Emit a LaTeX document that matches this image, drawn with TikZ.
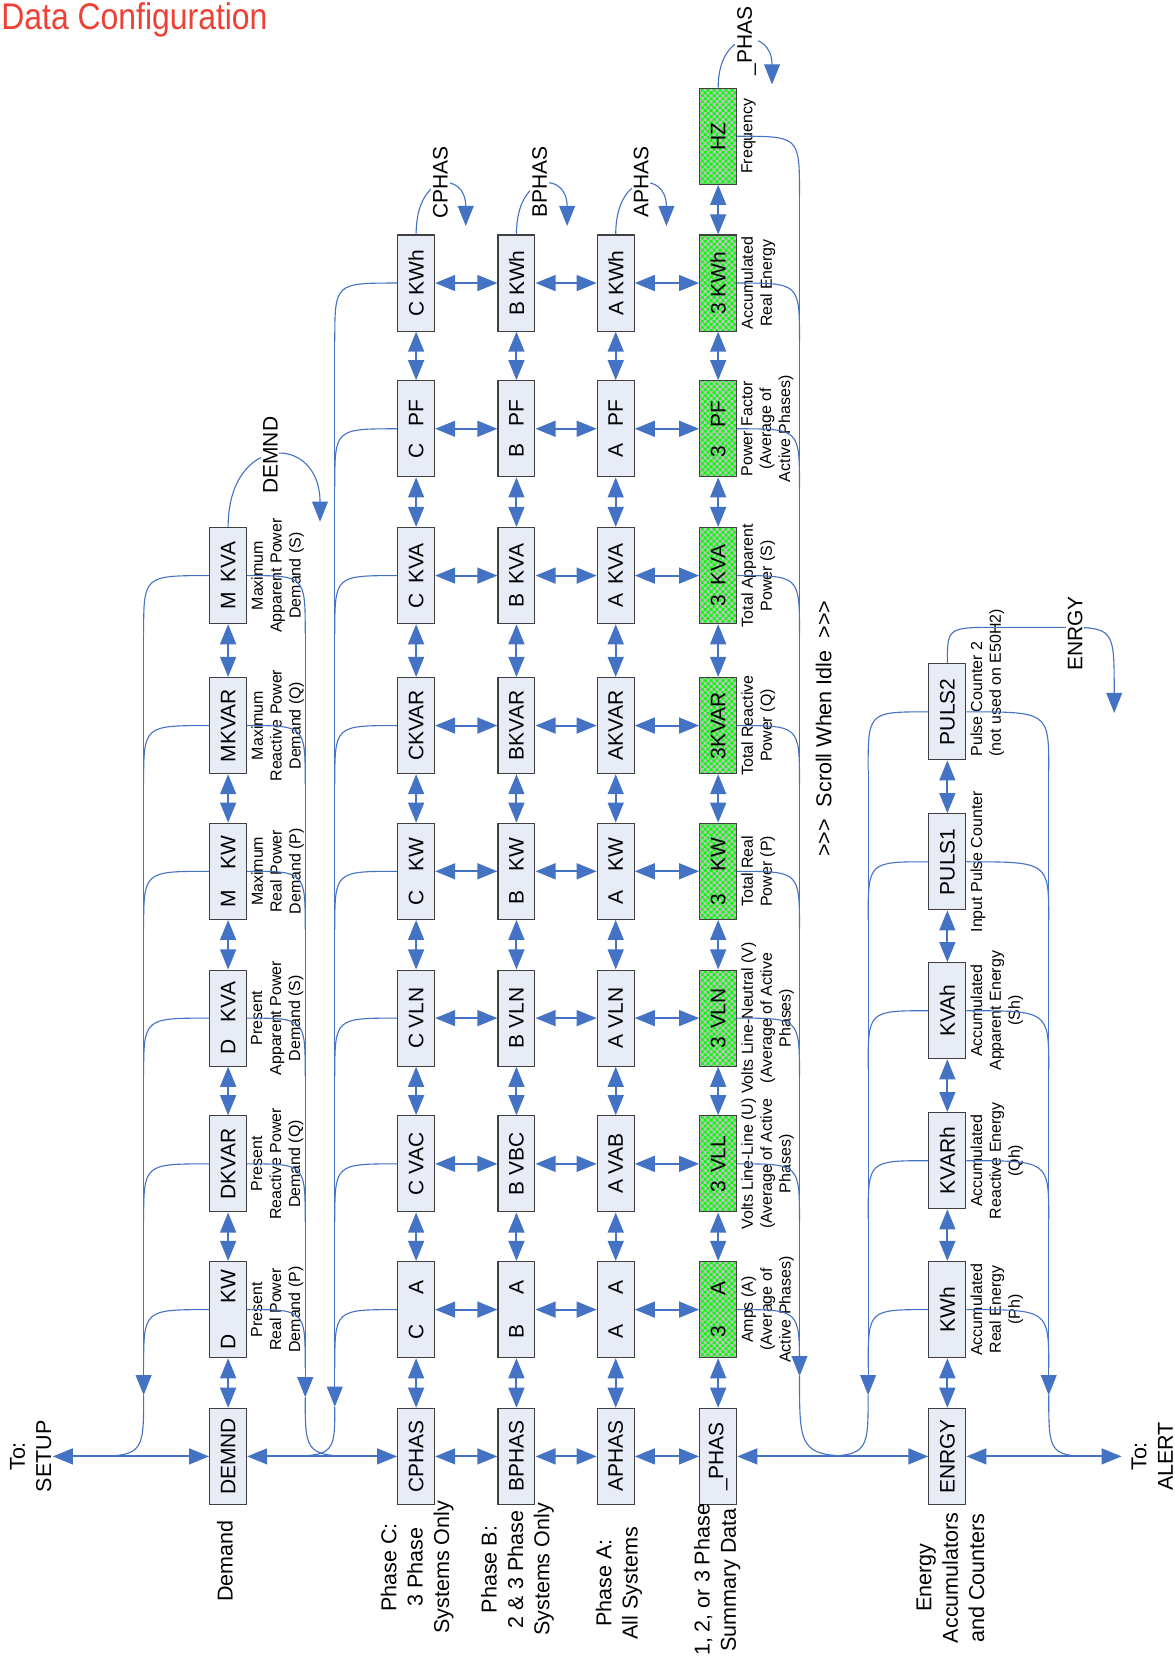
\documentclass[tikz,border=0pt]{standalone}
\usepackage{graphicx}
\usepackage{fontspec}
\setmainfont{Liberation Sans}
\usetikzlibrary{arrows.meta,patterns}

\definecolor{linkblue}{RGB}{68,114,196}
\definecolor{cellfill}{RGB}{231,236,247}
\definecolor{chkgray}{RGB}{192,192,192}
\definecolor{titlered}{RGB}{237,65,54}

\pgfdeclarepatternformonly{finechecker}{\pgfqpoint{-.05pt}{-.05pt}}{\pgfqpoint{3.25pt}{3.25pt}}{\pgfqpoint{3.2pt}{3.2pt}}{
  \pgfpathrectangle{\pgfqpoint{0pt}{0pt}}{\pgfqpoint{1.65pt}{1.65pt}}
  \pgfpathrectangle{\pgfqpoint{1.6pt}{1.6pt}}{\pgfqpoint{1.65pt}{1.65pt}}
  \pgfusepath{fill}
}

\tikzset{
  Fat/.tip={Triangle[length=0.38cm,width=0.3cm]},
  cell/.style={draw=black!75, line width=0.6pt, rotate=90, minimum width=1.82cm,
    minimum height=0.7cm, inner sep=1pt, font=\fontsize{11.3}{13}\selectfont},
  box/.style={cell, fill=cellfill},
  sumbox/.style={cell, preaction={fill=green}, pattern=finechecker, pattern color=chkgray},
  desc/.style={rotate=90, anchor=north, align=center, inner sep=2pt,
    font=\fontsize{8.6}{10.2}\selectfont},
  grouplabel/.style={rotate=90, align=center, inner sep=0pt,
    font=\fontsize{11.6}{14.2}\selectfont},
  wraplabel/.style={rotate=90, fill=white, inner sep=1pt,
    font=\fontsize{11.3}{13}\selectfont},
  link/.style={draw=linkblue, line width=1.1pt, Fat-Fat},
  bus/.style={draw=linkblue, line width=0.6pt},
  busarrow/.style={bus, -Fat},
}

\begin{document}
\begin{tikzpicture}[x=0.02cm, y=-0.02cm]
\useasboundingbox (0,0) rectangle (1112,1568);

% Title
\node[anchor=base west, inner sep=0pt, text=titlered, font=\fontsize{20}{23}\selectfont] (title) at (1,27.5) {\scalebox{0.86}[1]{Data Configuration}};

% Demand
\node[box] (D0) at (216,1379) {DEMND};
\node[box] (D1) at (216,1240) {D\hspace{17pt}KW};
\node[box] (D2) at (216,1102) {DKVAR};
\node[box] (D3) at (216,964) {D\hspace{9pt}KVA};
\node[box] (D4) at (216,825) {M\hspace{11pt}KW};
\node[box] (D5) at (216,687) {MKVAR};
\node[box] (D6) at (216,545) {M\hspace{5pt}KVA};

% Phase C
\node[box] (C0) at (394,1379) {CPHAS};
\node[box] (C1) at (394,1240) {C\hspace{16pt}A};
\node[box] (C2) at (394,1102) {C VAC};
\node[box] (C3) at (394,964) {C VLN};
\node[box] (C4) at (394,825) {C\hspace{10pt}KW};
\node[box] (C5) at (394,687) {CKVAR};
\node[box] (C6) at (394,545) {C\hspace{5pt}KVA};
\node[box] (C7) at (394,406) {C\hspace{9pt}PF};
\node[box] (C8) at (394,268) {C KWh};

% Phase B
\node[box] (B0) at (489,1379) {BPHAS};
\node[box] (B1) at (489,1240) {B\hspace{16pt}A};
\node[box] (B2) at (489,1102) {B VBC};
\node[box] (B3) at (489,964) {B VLN};
\node[box] (B4) at (489,825) {B\hspace{10pt}KW};
\node[box] (B5) at (489,687) {BKVAR};
\node[box] (B6) at (489,545) {B\hspace{5pt}KVA};
\node[box] (B7) at (489,406) {B\hspace{9pt}PF};
\node[box] (B8) at (489,268) {B KWh};

% Phase A
\node[box] (A0) at (583,1379) {APHAS};
\node[box] (A1) at (583,1240) {A\hspace{16pt}A};
\node[box] (A2) at (583,1102) {A VAB};
\node[box] (A3) at (583,964) {A VLN};
\node[box] (A4) at (583,825) {A\hspace{10pt}KW};
\node[box] (A5) at (583,687) {AKVAR};
\node[box] (A6) at (583,545) {A\hspace{5pt}KVA};
\node[box] (A7) at (583,406) {A\hspace{9pt}PF};
\node[box] (A8) at (583,268) {A KWh};

% Summary
\node[box] (S0) at (680,1379) {\_PHAS};
\node[sumbox] (S1) at (680,1240) {3\hspace{16pt}A};
\node[sumbox] (S2) at (680,1102) {3\hspace{4pt}VLL};
\node[sumbox] (S3) at (680,964) {3\hspace{4pt}VLN};
\node[sumbox] (S4) at (680,825) {3\hspace{12pt}KW};
\node[sumbox] (S5) at (680,687) {3KVAR};
\node[sumbox] (S6) at (680,545) {3\hspace{5pt}KVA};
\node[sumbox] (S7) at (680,406) {3\hspace{10pt}PF};
\node[sumbox] (S8) at (680,268) {3 KWh};
\node[sumbox] (S9) at (680,129) {HZ};

% Energy
\node[box] (E0) at (897,1379) {ENRGY};
\node[box] (E1) at (897,1240) {KWh};
\node[box] (E2) at (897,1099) {KVARh};
\node[box] (E3) at (897,957) {KVAh};
\node[box] (E4) at (897,816) {PULS1};
\node[box] (E5) at (897,674) {PULS2};

% Descriptions
\node[desc] (dD1) at (D1.south) {Present\\Real Power\\Demand (P)};
\node[desc] (dD2) at (D2.south) {Present\\Reactive Power\\Demand (Q)};
\node[desc] (dD3) at (D3.south) {Present\\Apparent Power\\Demand (S)};
\node[desc] (dD4) at (D4.south) {Maximum\\Real Power\\Demand (P)};
\node[desc] (dD5) at (D5.south) {Maximum\\Reactive Power\\Demand (Q)};
\node[desc] (dD6) at (D6.south) {Maximum\\Apparent Power\\Demand (S)};
\node[desc] (dS1) at (S1.south) {Amps (A)\\(Average of\\Active Phases)};
\node[desc] (dS2) at (S2.south) {Volts Line-Line (U)\\(Average of Active\\Phases)};
\node[desc] (dS3) at (S3.south) {Volts Line-Neutral (V)\\(Average of Active\\Phases)};
\node[desc] (dS4) at (S4.south) {Total Real\\Power (P)};
\node[desc] (dS5) at (S5.south) {Total Reactive\\Power (Q)};
\node[desc] (dS6) at (S6.south) {Total Apparent\\Power (S)};
\node[desc] (dS7) at (S7.south) {Power Factor\\(Average of\\Active Phases)};
\node[desc] (dS8) at (S8.south) {Accumulated\\Real Energy};
\node[desc] (dS9) at (S9.south) {Frequency};
\node[desc] (dE1) at (E1.south) {Accumulated\\Real Energy\\(Ph)};
\node[desc] (dE2) at (E2.south) {Accumulated\\Reactive Energy\\(Qh)};
\node[desc] (dE3) at (E3.south) {Accumulated\\Apparent Energy\\(Sh)};
\node[desc] (dE4) at (E4.south) {Input Pulse Counter};
\node[desc, anchor=north west, align=left] (dE5) at (E5.south west) {Pulse Counter 2\\(not used on E50H2)};

% Group labels
\node[grouplabel] (setuplbl) at (29,1379) {To:\\SETUP};
\node[grouplabel] (alertlbl) at (1091,1379) {To:\\ALERT};
\node[grouplabel] (gD) at (213,1478) {Demand};
\node[grouplabel] (gC) at (395,1484) {Phase C:\\3 Phase\\Systems Only};
\node[grouplabel] (gB) at (490,1486) {Phase B:\\2 \& 3 Phase\\Systems Only};
\node[grouplabel] (gA) at (586,1499) {Phase A:\\All Systems};
\node[grouplabel] (gS) at (679,1496) {1, 2, or 3 Phase\\Summary Data};
\node[grouplabel] (gE) at (900,1494) {Energy\\Accumulators\\and Counters};
\node[grouplabel] (scroll) at (780,690) {>{}>{}>\ \ Scroll When Idle\ \ >{}>{}>};

% Arrows up and down each column
\foreach \c/\n in {D/6,C/8,B/8,A/8,S/9,E/5}{
  \foreach \r in {1,...,\n}{
    \pgfmathtruncatemacro\p{\r-1}
    \draw[link] (\c\p.east) -- (\c\r.west);
  }
}
% Arrows across the phases
\foreach \r in {0,...,8}{
  \draw[link] (C\r.south) -- (B\r.north);
  \draw[link] (B\r.south) -- (A\r.north);
  \draw[link] (A\r.south) -- (S\r.north);
}
\coordinate (setup) at (50,1379);
\coordinate (alert) at (1062,1379);
\draw[link] (setup) -- (D0.north);
\draw[link] (D0.south) -- (C0.north);
\draw[link] (S0.south) -- (E0.north);
\draw[link] (E0.south) -- (alert);

% Scroll buses
\foreach \r/\y in {1/1240,2/1102,3/964,4/825,5/687,6/545}{
  \draw[bus] (D\r.north) .. controls (136,\y) .. (136,\y+55);
  \draw[bus] (D\r.south) .. controls (289,\y) .. (289,\y+55);
}
\foreach \r/\y in {1/1240,2/1102,3/964,4/825,5/687,6/545,7/406,8/268}
  \draw[bus] (C\r.north) .. controls (317,\y) .. (317,\y+55);
\foreach \r/\y in {1/1240,2/1102,3/964,4/825,5/687,6/545,7/406,8/268,9/129}
  \draw[bus] (S\r.south) .. controls (757,\y) .. (757,\y+55);
\foreach \r/\y in {1/1240,2/1099,3/957,4/816,5/674}{
  \draw[bus] (E\r.north) .. controls (822,\y) .. (822,\y+55);
  \draw[bus] (E\r.south) .. controls (993,\y) .. (993,\y+55);
}
\coordinate (busDl) at (136,1321);
\coordinate (busDr) at (289,1323);
\coordinate (busC) at (317,1332);
\coordinate (busS) at (757,1303);
\coordinate (busEl) at (822,1321);
\coordinate (busEr) at (993,1321);
\draw[busarrow] (136,600) -- (busDl);
\draw[busarrow] (289,600) -- (busDr);
\draw[busarrow] (317,323) -- (busC);
\draw[busarrow] (757,184) -- (busS);
\draw[busarrow] (822,729) -- (busEl);
\draw[busarrow] (993,729) -- (busEr);
\draw[bus] (busDl) .. controls (136,1379) .. (76,1379);
\draw[bus] (busDr) .. controls (289,1379) .. (352,1379);
\draw[bus] (busC) .. controls (317,1379) .. (256,1379);
\draw[bus] (busS) .. controls (757,1379) .. (830,1379);
\draw[bus] (busEl) .. controls (822,1379) .. (760,1379);
\draw[bus] (busEr) .. controls (993,1379) .. (1045,1379);

% Wrap back to the first item
\coordinate (wD) at (303,494);
\coordinate (wC) at (441,214);
\coordinate (wB) at (537,214);
\coordinate (wA) at (631,214);
\coordinate (wS) at (731,80);
\coordinate (wE) at (1055,675);
\draw[busarrow] (D6.east) .. controls (216,410) and (303,410) .. (wD);
\draw[busarrow] (C8.east) .. controls (394,162) and (441,162) .. (wC);
\draw[busarrow] (B8.east) .. controls (489,162) and (537,162) .. (wB);
\draw[busarrow] (A8.east) .. controls (583,162) and (631,162) .. (wA);
\draw[busarrow] (S9.east) .. controls (680,26) and (731,26) .. (wS);
\draw[busarrow] (E5.east) .. controls (897,594) .. (945,594) -- (1005,594) .. controls (1055,594) .. (wE);
\node[wraplabel] (lD) at (256,431) {DEMND};
\node[wraplabel] (lC) at (417,173) {CPHAS};
\node[wraplabel] (lB) at (511,172) {BPHAS};
\node[wraplabel] (lA) at (607,172) {APHAS};
\node[wraplabel] (lS) at (707,39) {\_PHAS};
\node[wraplabel] (lE) at (1018,600) {ENRGY};
\end{tikzpicture}
\end{document}
